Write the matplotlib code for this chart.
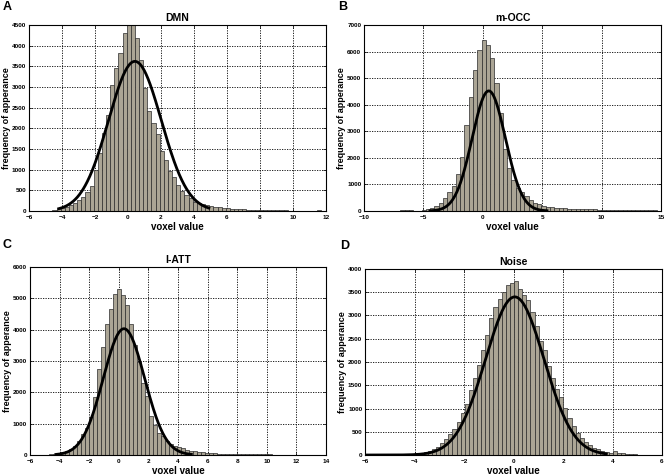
import numpy as np
import matplotlib
matplotlib.use("Agg")
import matplotlib.pyplot as plt

plt.rcParams['font.family'] = ['Liberation Sans', 'DejaVu Sans']

# histogram counts, one value per bin
dmn_start, dmn_width = -5.2, 0.25
dmn_counts = [5, 8, 12, 25, 45, 70, 104, 145, 202, 266, 347, 467, 613, 992, 1400,
              1880, 2322, 3048, 3451, 3815, 4298, 4600, 4600, 4177, 3650, 2968,
              2427, 2121, 1855, 1451, 1234, 968, 815, 629, 491, 387, 307, 225, 201,
              161, 137, 121, 105, 89, 75, 62, 55, 48, 42, 38, 34, 30, 27, 25, 23,
              21, 19, 17, 15, 14, 12, 10, 6, 4, 3, 2, 2, 15]
dmn_fit = dict(mu=0.42, sigma=1.6, peak=3620, lo=-4.2, hi=4.9)

occ_start, occ_width = -6.77, 0.36
occ_counts = [20, 25, 20, 15, 18, 28, 90, 125, 190, 300, 480, 700, 950, 1400, 2040,
              3240, 4300, 5300, 6060, 6435, 6246, 5745, 4805, 3676, 2330, 1606,
              1167, 853, 727, 577, 414, 313, 251, 200, 163, 138, 120, 110, 100, 90,
              85, 80, 72, 65, 75, 60, 50, 45, 42, 40, 38, 36, 35, 34, 33, 32, 32,
              31, 30, 30]
occ_fit = dict(mu=0.5, sigma=1.4, peak=4520, lo=-4.45, hi=5.4)

att_start, att_width = -5.14, 0.27
att_counts = [5, 10, 20, 35, 60, 86, 117, 192, 298, 458, 671, 863, 1204, 1844,
              2750, 3444, 4190, 4669, 5149, 5288, 5117, 4797, 4190, 3497, 2964,
              2300, 1898, 1258, 960, 705, 598, 458, 352, 298, 245, 213, 171, 139,
              117, 100, 86, 75, 64, 55, 48, 42, 38, 34, 30, 28, 26, 24, 22, 21, 20,
              19, 18, 17, 16, 15, 15, 14, 13, 12, 12, 11, 10, 10, 9, 8]
att_fit = dict(mu=0.35, sigma=1.4, peak=4030, lo=-4.25, hi=4.9)

noise_start, noise_width = -4.71, 0.166
noise_counts = [3, 5, 8, 10, 15, 21, 36, 57, 86, 122, 179, 250, 336, 444, 551, 708,
                909, 1088, 1388, 1660, 1946, 2268, 2576, 2948, 3177, 3356, 3500,
                3664, 3700, 3735, 3570, 3435, 3342, 3077, 2770, 2450, 2250, 1910,
                1650, 1420, 1250, 1016, 801, 622, 479, 372, 286, 215, 157, 122, 86,
                64, 50, 78, 40, 43, 25, 18, 14, 10, 8, 6]
noise_fit = dict(mu=0.05, sigma=1.18, peak=3400, lo=-6.0, hi=3.75)

panels = [
    ("A", "DMN", dmn_start, dmn_width, dmn_counts, dmn_fit, (-6, 12, 2), (0, 4500, 500),
     [0.0433, 0.5567, 0.444, 0.3908], (0.004, 0.972)),
    ("B", "m-OCC", occ_start, occ_width, occ_counts, occ_fit, (-10, 15, 5), (0, 7000, 1000),
     [0.5441, 0.5567, 0.444, 0.3908], (0.506, 0.972)),
    ("C", "l-ATT", att_start, att_width, att_counts, att_fit, (-6, 14, 2), (0, 6000, 1000),
     [0.0448, 0.0441, 0.4425, 0.395], (0.004, 0.472)),
    ("D", "Noise", noise_start, noise_width, noise_counts, noise_fit, (-6, 6, 2), (0, 4000, 500),
     [0.5456, 0.0441, 0.444, 0.3908], (0.508, 0.470)),
]

fig = plt.figure(figsize=(6.69, 4.76), dpi=100)

for letter, title, start, width, counts, fit, xt, yt, pos, lpos in panels:
    ax = fig.add_axes(pos)
    centers = start + width * np.arange(len(counts))
    ax.bar(centers, counts, width=width, color='#aba595', edgecolor='#2b2b2b',
           linewidth=0.5, zorder=2)
    xs = np.linspace(fit['lo'], fit['hi'], 300)
    ys = fit['peak'] * np.exp(-0.5 * ((xs - fit['mu']) / fit['sigma']) ** 2)
    ax.plot(xs, ys, color='black', lw=2.0, zorder=3)

    ax.set_xlim(xt[0], xt[1])
    ax.set_ylim(yt[0], yt[1])
    ax.set_xticks(np.arange(xt[0], xt[1] + 0.001, xt[2]))
    ax.set_yticks(np.arange(yt[0], yt[1] + 0.001, yt[2]))
    ax.grid(True, color='black', linestyle=(0, (1.5, 1.5)), linewidth=0.6, zorder=1)
    ax.set_axisbelow(True)
    ax.tick_params(labelsize=4.6, direction='in', length=2, width=0.5,
                   top=True, right=True)
    ax.tick_params(axis='x', pad=3)
    ax.tick_params(axis='y', pad=2)
    for lab in ax.get_xticklabels() + ax.get_yticklabels():
        lab.set_fontweight('bold')
    for sp in ax.spines.values():
        sp.set_linewidth(0.8)
    ax.set_xlabel("voxel value", fontsize=7, fontweight='bold', labelpad=1)
    ax.set_ylabel("frequency of apperance", fontsize=6.5, fontweight='bold', labelpad=0.5)
    ax.set_title(title, fontsize=7.5, fontweight='bold', pad=3)
    fig.text(lpos[0], lpos[1], letter, fontsize=9, fontweight='bold',
             ha='left', va='bottom')

fig.savefig("out.png", dpi=100)
